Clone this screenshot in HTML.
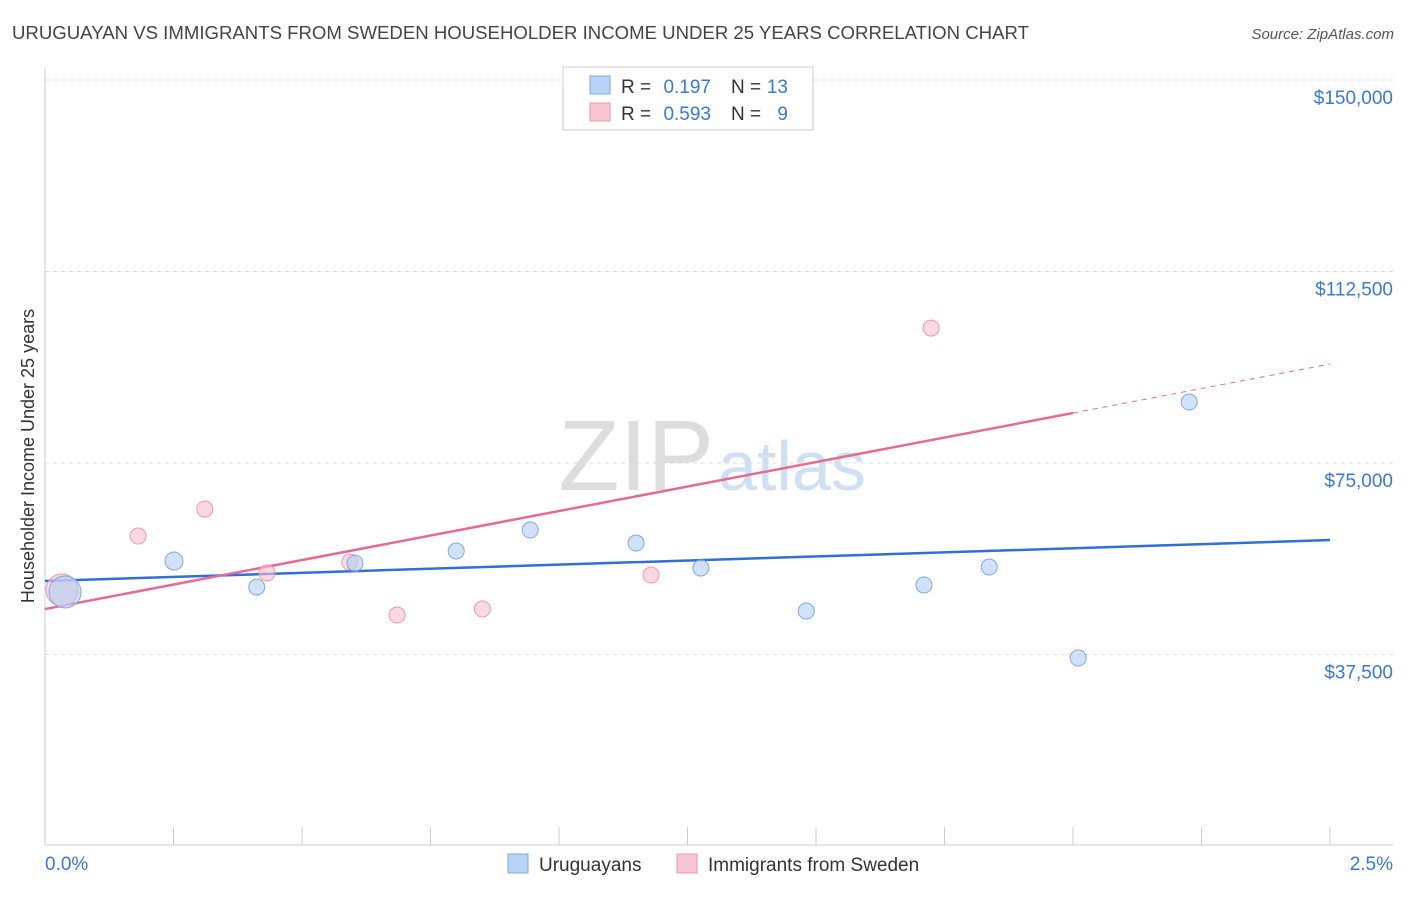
<!DOCTYPE html>
<html><head><meta charset="utf-8"><style>
body{margin:0;background:#fff;font-family:"Liberation Sans",sans-serif;}
svg text{font-family:"Liberation Sans",sans-serif;}
</style></head><body>
<svg id="chart" width="1406" height="892" xmlns="http://www.w3.org/2000/svg">
<text x="12" y="39" font-size="18.6" fill="#444">URUGUAYAN VS IMMIGRANTS FROM SWEDEN HOUSEHOLDER INCOME UNDER 25 YEARS CORRELATION CHART</text>
<text x="1394" y="39" font-size="15" fill="#555" text-anchor="end" font-style="italic">Source: ZipAtlas.com</text>
<text x="714" y="490" font-size="100" fill="#ddd" text-anchor="end" font-family="Liberation Serif">ZIP</text>
<text x="718" y="490" font-size="70" fill="#cfe0f3">atlas</text>
<text transform="translate(34,456) rotate(-90)" font-size="18" fill="#333" text-anchor="middle">Householder Income Under 25 years</text>
<g id="grid"></g><g id="axes"></g><g id="lines"></g><g id="points"></g>
<g>
<rect x="563" y="67" width="250" height="63" fill="#fff" stroke="#ccc"/>
<rect x="590" y="76" width="20" height="18" fill="#b8d3f5" stroke="#7fa9e0"/>
<text x="621" y="93" font-size="19" fill="#333">R =</text>
<text x="711" y="93" font-size="19" fill="#3a78d8" text-anchor="end">0.197</text>
<text x="731" y="93" font-size="19" fill="#333">N =</text>
<text x="788" y="93" font-size="19" fill="#3a78d8" text-anchor="end">13</text>
<rect x="590" y="103" width="20" height="18" fill="#f9c6d3" stroke="#e89ab0"/>
<text x="621" y="120" font-size="19" fill="#333">R =</text>
<text x="711" y="120" font-size="19" fill="#3a78d8" text-anchor="end">0.593</text>
<text x="731" y="120" font-size="19" fill="#333">N =</text>
<text x="788" y="120" font-size="19" fill="#3a78d8" text-anchor="end">9</text>
</g>
<g>
<rect x="508" y="854" width="20" height="19" fill="#b8d3f5" stroke="#7fa9e0"/>
<text x="539" y="871" font-size="19" fill="#333">Uruguayans</text>
<rect x="677" y="854" width="20" height="19" fill="#f9c6d3" stroke="#e89ab0"/>
<text x="708" y="871" font-size="19" fill="#333">Immigrants from Sweden</text>
</g>
</svg>
<script>
const yTicks=[37500,75000,112500,150000];
const yTickLabels=["$37,500","$75,000","$112,500","$150,000"];
const xTickLabels=["0.0%","2.5%"];
const uruX=[0.039,0.251,0.412,0.603,0.800,0.944,1.150,1.276,1.481,1.710,1.837,2.010,2.226];
const uruY=[49740,55800,50700,55400,57760,61870,59330,54430,46010,51100,54630,36810,86940];
const uruR=[16,9,8,8,8,8,8,8,8,8,8,8,8];
const sweX=[0.033,0.181,0.311,0.432,0.593,0.685,0.851,1.179,1.724];
const sweY=[50120,60700,65980,53450,55610,45230,46400,53060,101420];
const sweR=[16,8,8,8,8,8,8,8,8];
const uruLine=[51890,59910];
const sweLine=[46400,94380];
const sweSolidEnd=2.0;
const NS="http://www.w3.org/2000/svg";
const X=v=>45+v*514, Y=v=>846-v/37500*191.5;
function mk(t,a,p){const e=document.createElementNS(NS,t);for(const k in a)e.setAttribute(k,a[k]);document.getElementById(p).appendChild(e);return e;}
yTicks.forEach((t,i)=>{
 const l=mk('line',{x1:45,x2:1393,y1:Y(t),y2:Y(t),stroke:'#ddd','stroke-dasharray':'4,4'},'grid');
 
 
 const tx=mk('text',{x:1393,y:Y(t)+24,'font-size':19,fill:'#3a78d8','text-anchor':'end'},'grid');
 tx.textContent=yTickLabels[i];
 
 
});
mk('line',{x1:45,x2:1393,y1:845,y2:845,stroke:'#ccc'},'axes');
mk('line',{x1:45,x2:45,y1:68,y2:845,stroke:'#ccc'},'axes');
for(let i=1;i<=10;i++){const t=mk('line',{x1:X(i*0.25),x2:X(i*0.25),y1:827,y2:845,stroke:'#ccc'},'axes');
 
 }
[[0,'start',45],[2.5,'end',1393]].forEach((d,i)=>{const t=mk('text',{x:d[2],y:870,'font-size':19,fill:'#3a78d8','text-anchor':d[1]},'axes');t.textContent=xTickLabels[i];
 
 });
const sy=v=>sweLine[0]+(sweLine[1]-sweLine[0])*v/2.5;
const bl=mk('line',{x1:X(0),y1:Y(uruLine[0]),x2:X(2.5),y2:Y(uruLine[1]),stroke:'#2f6fd6','stroke-width':2.5},'lines');


const pl=mk('line',{x1:X(0),y1:Y(sy(0)),x2:X(sweSolidEnd),y2:Y(sy(sweSolidEnd)),stroke:'#e56b93','stroke-width':2.5},'lines');


const pd=mk('line',{x1:X(sweSolidEnd),y1:Y(sy(sweSolidEnd)),x2:X(2.5),y2:Y(sy(2.5)),stroke:'#e56b93','stroke-width':1,'stroke-dasharray':'5,5'},'lines');


sweX.forEach((x,i)=>{const c=mk('circle',{cx:X(x),cy:Y(sweY[i]),r:sweR[i],fill:'rgba(248,190,206,0.6)',stroke:'#e89ab0'},'points');
 
 });
uruX.forEach((x,i)=>{const c=mk('circle',{cx:X(x),cy:Y(uruY[i]),r:uruR[i],fill:'rgba(178,206,243,0.6)',stroke:'#7fa9e0'},'points');
 
 });
</script>
</body></html>
